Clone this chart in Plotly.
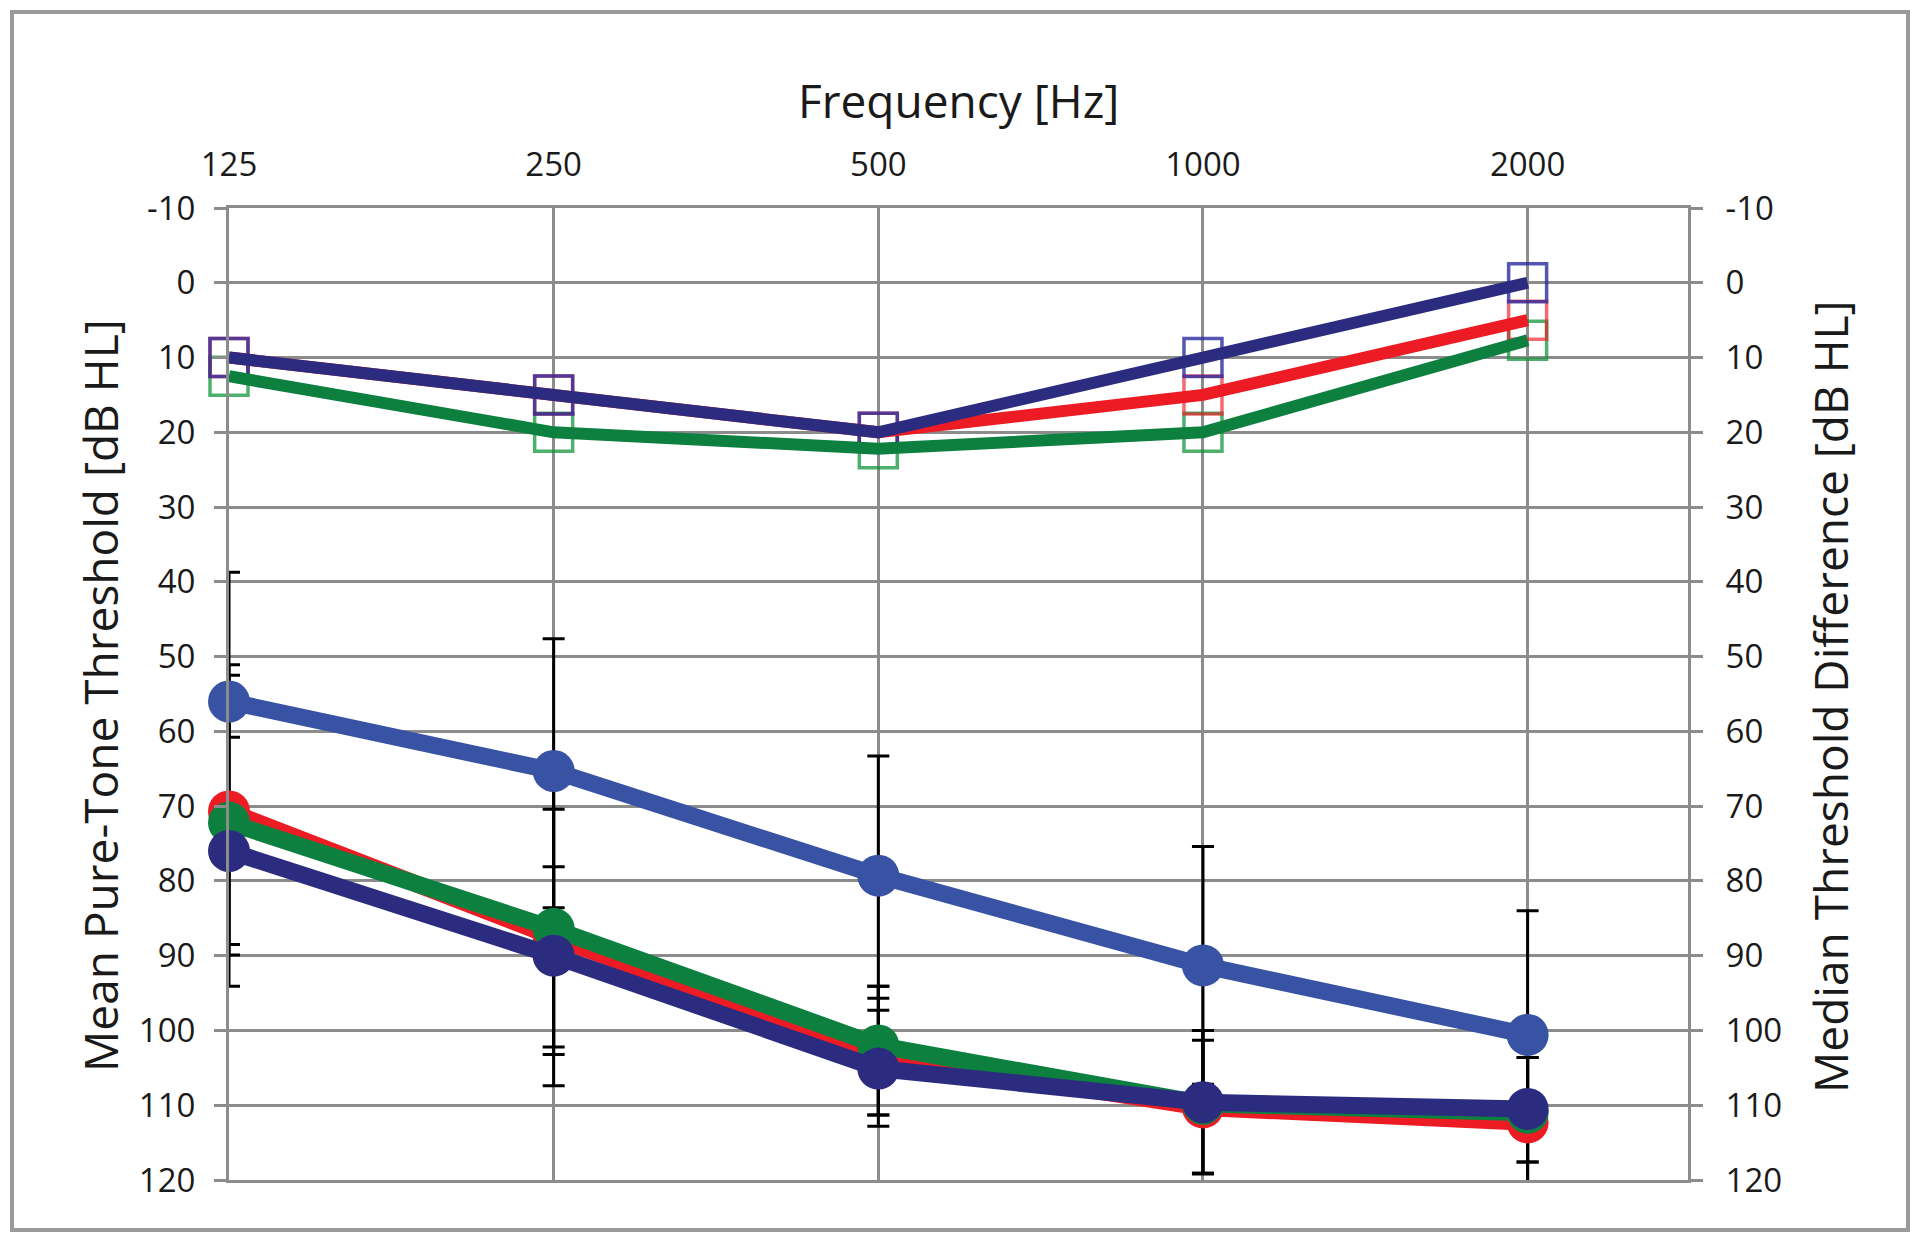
import math
import plotly.graph_objects as go

# ---------------- data ----------------
freqs = [125, 250, 500, 1000, 2000]
freq_labels = ["125", "250", "500", "1000", "2000"]

# Mean pure-tone thresholds (left axis, dB HL)
mean_lightblue = [56.0, 65.3, 79.3, 91.3, 100.6]
mean_red = [70.7, 87.5, 103.5, 110.3, 112.3]
mean_green = [72.2, 86.4, 102.0, 109.8, 111.0]
mean_navy = [76.0, 90.0, 105.1, 109.6, 110.5]

# Error bar ends (low / high values, dB HL)
lo_lightblue = [38.7, 47.6, 63.3, 75.4, 84.0]
hi_lightblue = [60.8, 83.6, 95.7, 107.2, 117.6]
lo_red = [51.1, 70.4, 94.1, 101.3, 103.6]
hi_red = [88.5, 103.2, 111.3, 119.1, 121.2]
lo_green = [52.5, 65.4, 94.1, 100.0, 100.8]
hi_green = [89.9, 107.4, 111.3, 119.1, 121.2]
lo_navy = [58.0, 78.1, 97.3, 100.0, 103.6]
hi_navy = [94.1, 102.2, 112.8, 119.2, 117.6]

# Median threshold differences (right axis, dB HL)
med_green = [12.5, 20.0, 22.2, 20.0, 7.7]
med_red = [10.0, 15.0, 20.0, 15.0, 5.0]
med_navy = [10.0, 15.0, 20.0, 10.0, 0.0]

y_ticks = list(range(-10, 121, 10))
y_tick_labels = [str(v) for v in y_ticks]

# ---------------- styles ----------------
C_LBLUE = "#3953A4"
C_NAVY = "#2B2C7F"
C_RED = "#ED1C24"
C_GREEN = "#0D8040"
SQ = {"navy": "rgba(43,44,160,0.8)", "red": "rgba(237,28,36,0.65)", "green": "rgba(20,150,60,0.75)"}
GRID = "#8C8C8C"
FONT = "Open Sans"

fig = go.Figure()

# error bars (drawn first, beneath everything)
for mean, lo, hi in [(mean_lightblue, lo_lightblue, hi_lightblue),
                     (mean_red, lo_red, hi_red),
                     (mean_green, lo_green, hi_green),
                     (mean_navy, lo_navy, hi_navy)]:
    fig.add_trace(go.Scatter(
        x=freqs, y=mean, mode="markers",
        marker=dict(size=1, opacity=0),
        error_y=dict(type="data", symmetric=False,
                     array=[h - m for h, m in zip(hi, mean)],
                     arrayminus=[m - l for m, l in zip(mean, lo)],
                     color="black", thickness=3, width=11),
        cliponaxis=False, showlegend=False, hoverinfo="skip", yaxis="y"))

# mean threshold lines with circles
for mean, col in [(mean_lightblue, C_LBLUE), (mean_red, C_RED),
                  (mean_green, C_GREEN), (mean_navy, C_NAVY)]:
    fig.add_trace(go.Scatter(
        x=freqs, y=mean, mode="lines+markers",
        line=dict(color=col, width=17),
        marker=dict(symbol="circle", size=42, color=col),
        cliponaxis=False, showlegend=False, yaxis="y"))

# median difference: squares beneath, lines on top
for med, key in [(med_green, "green"), (med_red, "red"), (med_navy, "navy")]:
    fig.add_trace(go.Scatter(
        x=freqs, y=med, mode="markers",
        marker=dict(symbol="square-open", size=38, color=SQ[key], line=dict(width=3.5, color=SQ[key])),
        cliponaxis=False, showlegend=False, yaxis="y2"))
for med, col in [(med_green, C_GREEN), (med_red, C_RED), (med_navy, C_NAVY)]:
    fig.add_trace(go.Scatter(
        x=freqs, y=med, mode="lines",
        line=dict(color=col, width=12),
        cliponaxis=False, showlegend=False, yaxis="y2"))

L, R, T, B = 229, 232, 208, 62
W, H = 1920, 1242
pw, ph = W - L - R, H - T - B

def px_x(px):
    return (px - L) / pw

def px_y(py):
    return (H - B - py) / ph

xr = [math.log10(freqs[0]), math.log10(freqs[-1]) + 0.494 * math.log10(2)]

axis_font = dict(family=FONT, size=33, color="#1A1A1A")
title_font = dict(family=FONT, size=46, color="#1A1A1A")

fig.update_layout(
    width=W, height=H,
    margin=dict(l=L, r=R, t=T, b=B),
    paper_bgcolor="white", plot_bgcolor="white",
    font=dict(family=FONT, color="#1A1A1A"),
    xaxis=dict(type="log", range=xr, side="top",
               tickvals=freqs, ticktext=freq_labels, tickfont=axis_font,
               showgrid=True, gridcolor=GRID, gridwidth=3,
               showline=True, linecolor=GRID, linewidth=3, mirror=True,
               ticks="", ticklabelstandoff=16, zeroline=False),
    yaxis=dict(range=[120, -10], tickvals=y_ticks, ticktext=y_tick_labels, tickfont=axis_font,
               showgrid=True, gridcolor=GRID, gridwidth=3,
               showline=True, linecolor=GRID, linewidth=3,
               ticks="outside", ticklen=12, tickwidth=3, tickcolor=GRID,
               ticklabelstandoff=12, zeroline=False),
    yaxis2=dict(range=[120, -10], tickvals=y_ticks, ticktext=y_tick_labels, tickfont=axis_font,
                overlaying="y", side="right", showgrid=False,
                showline=True, linecolor=GRID, linewidth=3,
                ticks="outside", ticklen=12, tickwidth=3, tickcolor=GRID,
                ticklabelstandoff=16, zeroline=False),
    annotations=[
        dict(text="Frequency [Hz]", xref="paper", yref="paper",
             x=px_x(958), y=px_y(100), showarrow=False,
             xanchor="center", yanchor="middle", font=title_font),
        dict(text="Mean Pure-Tone Threshold [dB HL]", xref="paper", yref="paper",
             x=px_x(100), y=px_y(696), showarrow=False, textangle=-90,
             xanchor="center", yanchor="middle", font=title_font),
        dict(text="Median Threshold Difference [dB HL]", xref="paper", yref="paper",
             x=px_x(1830), y=px_y(697), showarrow=False, textangle=-90,
             xanchor="center", yanchor="middle", font=title_font),
    ],
    shapes=[dict(type="rect", xref="paper", yref="paper",
                 x0=px_x(12), x1=px_x(1908), y0=px_y(1230), y1=px_y(12),
                 line=dict(color="#9A9A9A", width=4), fillcolor="rgba(0,0,0,0)")],
)

fig.write_html("out.html", config={"displayModeBar": False},
               post_script="document.body.style.margin='0';")
